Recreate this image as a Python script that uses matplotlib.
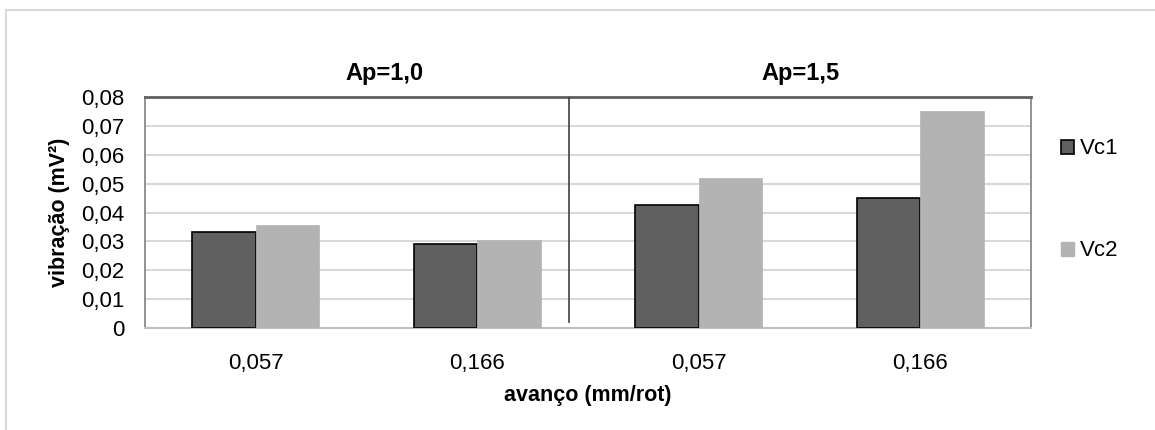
import numpy as np
import matplotlib.pyplot as plt
from matplotlib.patches import Patch
from matplotlib.lines import Line2D

plt.rcParams['font.family'] = ['Liberation Sans', 'DejaVu Sans']

# feed rates (mm/rot) for each depth of cut
avanco = ['0,057', '0,166', '0,057', '0,166']
vc1 = [0.0331, 0.0291, 0.0427, 0.0450]
vc2 = [0.0358, 0.0305, 0.0518, 0.0753]
grupos = ['Ap=1,0', 'Ap=1,5']
yticks = [0, 0.01, 0.02, 0.03, 0.04, 0.05, 0.06, 0.07, 0.08]

fig = plt.figure(figsize=(11.55, 4.3), dpi=100)
ax = fig.add_axes([145 / 1155, 102 / 430, 886 / 1155, 231 / 430])

x = np.arange(len(avanco))
w = 0.287
ax.bar(x - w / 2, vc1, w, color='#606060', edgecolor='black', linewidth=1.2, label='Vc1', zorder=3)
ax.bar(x + w / 2, vc2, w, color='#b3b3b3', edgecolor='#b3b3b3', linewidth=0.5, label='Vc2', zorder=3)

ax.set_xlim(-0.5, 3.5)
ax.set_ylim(0, 0.08)
ax.set_yticks(yticks)
ax.set_yticklabels(['0' if v == 0 else f'{v:.2f}'.replace('.', ',') for v in yticks], fontsize=16)
ax.set_xticks(x)
ax.set_xticklabels(avanco, fontsize=16)
ax.tick_params(length=0)
ax.tick_params(axis='y', pad=15)
ax.tick_params(axis='x', pad=18)
ax.grid(axis='y', color='#d9d9d9', linewidth=1.5, zorder=0)
ax.set_axisbelow(True)

for s in ['left', 'right']:
    ax.spines[s].set_color('#808080')
    ax.spines[s].set_linewidth(1.2)
ax.spines['top'].set_color('#606060')
ax.spines['top'].set_linewidth(2)
ax.spines['bottom'].set_color('#c0c0c0')
ax.spines['bottom'].set_linewidth(1.5)

# separator between the two depth-of-cut groups
ax.axvline(1.416, ymin=0.026, ymax=1, color='#404040', linewidth=1.2, zorder=4)

ax.text(0.27, 1.05, grupos[0], transform=ax.transAxes, ha='center', va='bottom',
        fontsize=17, fontweight='bold')
ax.text(0.74, 1.05, grupos[1], transform=ax.transAxes, ha='center', va='bottom',
        fontsize=17, fontweight='bold')

ax.set_ylabel('vibração (mV²)', fontsize=15.5, fontweight='bold', labelpad=8)
ax.set_xlabel('avanço (mm/rot)', fontsize=15.5, fontweight='bold', labelpad=8)

# legend entries laid out on the right
leg_kw = dict(loc='center left', frameon=False, fontsize=16, handlelength=0.6, handleheight=0.6,
              handletextpad=0.25, borderaxespad=0, borderpad=0)
fig.legend(handles=[Patch(facecolor='#606060', edgecolor='black', linewidth=1.2, label='Vc1')],
           bbox_to_anchor=(1061 / 1155, 1 - 149 / 430), **leg_kw)
fig.legend(handles=[Patch(facecolor='#b3b3b3', edgecolor='#b3b3b3', label='Vc2')],
           bbox_to_anchor=(1061 / 1155, 1 - 251 / 430), **leg_kw)

# light outer frame of the chart area
fig.add_artist(Line2D([6 / 1155, 1], [1 - 10 / 430, 1 - 10 / 430], transform=fig.transFigure,
                      color='#d9d9d9', linewidth=1.5))
fig.add_artist(Line2D([6 / 1155, 6 / 1155], [0, 1 - 10 / 430], transform=fig.transFigure,
                      color='#d9d9d9', linewidth=1.5))

fig.savefig('out.png', dpi=100)
